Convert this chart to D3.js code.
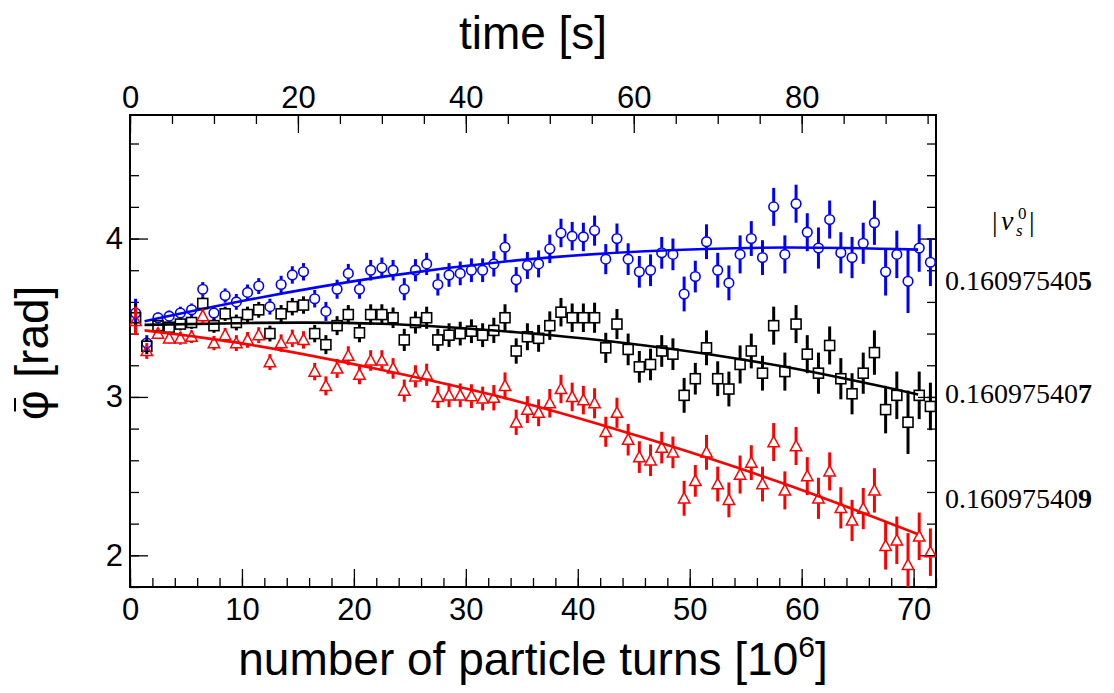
<!DOCTYPE html>
<html><head><meta charset="utf-8">
<script src="https://cdn.jsdelivr.net/npm/d3@7"></script>
<style>body{margin:0;background:#fff}svg{display:block}</style>
</head><body><svg id="c" width="1114" height="693"></svg>
<script>
// ---- data ----
const turns = [0.5,1.5,2.5,3.5,4.5,5.5,6.5,7.5,8.5,9.5,10.5,11.5,12.5,13.5,14.5,15.5,16.5,17.5,18.5,19.5,
  20.5,21.5,22.5,23.5,24.5,25.5,26.5,27.5,28.5,29.5,30.5,31.5,32.5,33.5,34.5,35.5,36.5,37.5,38.5,39.5,
  40.5,41.5,42.5,43.5,44.5,45.5,46.5,47.5,48.5,49.5,50.5,51.5,52.5,53.5,54.5,55.5,56.5,57.5,58.5,59.5,
  60.5,61.5,62.5,63.5,64.5,65.5,66.5,67.5,68.5,69.5,70.5,71.5];
const phiBlue = [3.53,3.34,3.50,3.51,3.53,3.55,3.68,3.53,3.64,3.60,3.66,3.70,3.57,3.71,3.77,3.79,3.62,3.54,3.68,3.78,
  3.68,3.80,3.815,3.80,3.68,3.80,3.84,3.71,3.77,3.78,3.80,3.80,3.84,3.945,3.74,3.83,3.84,3.935,4.035,4.015,
  4.01,4.05,3.87,4.00,3.87,3.79,3.80,3.91,3.90,3.65,3.76,3.98,3.80,3.72,3.90,4.00,3.88,4.20,3.90,4.22,
  4.04,3.94,4.12,3.91,3.88,3.97,4.10,3.79,3.90,3.73,3.94,3.85];
const phiBlack = [3.50,3.32,3.45,3.44,3.46,3.47,3.59,3.45,3.525,3.47,3.52,3.55,3.40,3.525,3.57,3.58,3.40,3.33,3.45,3.52,
  3.405,3.52,3.52,3.50,3.36,3.47,3.50,3.36,3.39,3.40,3.415,3.39,3.42,3.50,3.29,3.38,3.37,3.45,3.535,3.50,
  3.50,3.50,3.31,3.46,3.30,3.19,3.205,3.29,3.27,3.01,3.115,3.31,3.115,3.05,3.205,3.29,3.15,3.45,3.16,3.46,
  3.27,3.15,3.325,3.115,3.02,3.15,3.28,2.92,3.01,2.84,3.01,2.94];
const phiRed = [3.48,3.29,3.40,3.37,3.37,3.38,3.51,3.34,3.39,3.34,3.36,3.39,3.22,3.34,3.37,3.36,3.16,3.07,3.18,3.26,
  3.14,3.23,3.23,3.18,3.04,3.13,3.14,3.00,3.01,3.01,3.005,2.99,2.995,3.07,2.84,2.92,2.90,2.96,3.05,3.00,
  2.98,2.96,2.78,2.90,2.73,2.62,2.60,2.68,2.65,2.36,2.47,2.65,2.45,2.35,2.51,2.585,2.45,2.715,2.41,2.69,
  2.50,2.36,2.53,2.30,2.22,2.295,2.41,2.06,2.095,1.94,2.12,2.02];
const errors = [0.09,0.05,0.035,0.035,0.04,0.04,0.045,0.045,0.045,0.05,0.05,0.05,0.05,0.055,0.055,0.055,0.055,0.06,0.06,0.06,
  0.06,0.065,0.065,0.065,0.07,0.07,0.07,0.07,0.075,0.075,0.075,0.075,0.08,0.085,0.08,0.085,0.085,0.09,0.09,0.09,
  0.09,0.095,0.095,0.095,0.1,0.1,0.1,0.1,0.1,0.11,0.1,0.11,0.11,0.11,0.12,0.11,0.11,0.12,0.12,0.12,
  0.12,0.13,0.12,0.13,0.13,0.13,0.14,0.15,0.15,0.2,0.15,0.15];
const fitX = [1.3, 10.7, 22.5, 34.5, 46, 58.5, 70.4];
const fitBlue = [3.478, 3.615, 3.758, 3.862, 3.92, 3.943, 3.93];
const fitBlack = [3.455, 3.467, 3.462, 3.408, 3.325, 3.19, 3.016];
const fitRed = [3.42, 3.33, 3.17, 2.975, 2.74, 2.45, 2.133];
const bottomTicks = [0,10,20,30,40,50,60,70];
const topTicks = [0,20,40,60,80];
const yTicks = [2,3,4];
const tunePrefix = ["0.16097540","0.16097540","0.16097540"];
const tuneLast = ["5","7","9"];

// ---- layout ----
const L=130, R=936, T=115, B=587;
const svg = d3.select("#c");
const x = d3.scaleLinear().domain([0,72]).range([L,R]);
const xt = d3.scaleLinear().domain([0,96]).range([L,R]);
const y = d3.scaleLinear().domain([1.8,4.78]).range([B,T]);
const font = "'Liberation Sans', Arial, Helvetica, sans-serif";
const serif = "'Liberation Serif', 'Times New Roman', serif";

function range(a,b,s){const r=[];for(let v=a;v<=b+1e-9;v+=s)r.push(+v.toFixed(4));return r;}
function styleAxis(g){g.select(".domain").remove();g.selectAll("line").attr("stroke","#000").attr("stroke-width",1.3);
  g.selectAll("text").attr("font-family",font).attr("font-size",31).attr("fill","#000");}

// bottom
svg.append("g").attr("transform",`translate(0,${B})`).call(d3.axisBottom(x).tickValues(range(0,72,2)).tickSize(-9).tickFormat("")).call(styleAxis);
svg.append("g").attr("transform",`translate(0,${B})`).call(d3.axisBottom(x).tickValues(bottomTicks).tickSize(-18).tickPadding(11).tickFormat(d3.format("d"))).call(styleAxis);
// top
svg.append("g").attr("transform",`translate(0,${T})`).call(d3.axisTop(xt).tickValues(range(0,96,5)).tickSize(-9).tickFormat("")).call(styleAxis);
svg.append("g").attr("transform",`translate(0,${T})`).call(d3.axisTop(xt).tickValues(topTicks).tickSize(-18).tickPadding(7).tickFormat(d3.format("d"))).call(styleAxis);
// left
svg.append("g").attr("transform",`translate(${L},0)`).call(d3.axisLeft(y).tickValues(range(1.8,4.78,0.2)).tickSize(-9).tickFormat("")).call(styleAxis);
svg.append("g").attr("transform",`translate(${L},0)`).call(d3.axisLeft(y).tickValues(yTicks).tickSize(-18).tickPadding(7).tickFormat(d3.format("d"))).call(styleAxis);
// right
svg.append("g").attr("transform",`translate(${R},0)`).call(d3.axisRight(y).tickValues(range(1.8,4.78,0.2)).tickSize(-9).tickFormat("")).call(styleAxis);
svg.append("g").attr("transform",`translate(${R},0)`).call(d3.axisRight(y).tickValues(yTicks).tickSize(-18).tickFormat("")).call(styleAxis);

// frame
svg.append("rect").attr("x",L).attr("y",T).attr("width",R-L).attr("height",B-T)
  .attr("fill","none").attr("stroke","#000").attr("stroke-width",2);

svg.append("clipPath").attr("id","clip").append("rect").attr("x",L).attr("y",T).attr("width",R-L).attr("height",B-T);
const plot = svg.append("g").attr("clip-path","url(#clip)");

const series = [
  {vals:phiBlue, fit:fitBlue, color:"#0000ff", shape:"circle"},
  {vals:phiBlack, fit:fitBlack, color:"#000000", shape:"square"},
  {vals:phiRed, fit:fitRed, color:"#ff0000", shape:"triangle"}
];
const rM = 5;
series.forEach(s=>{
  const g = plot.append("g");
  s.vals.forEach((v,i)=>{
    const cx = x(turns[i]), cy = y(v), top = y(v+errors[i]), bot = y(v-errors[i]);
    if (cy-rM > top) g.append("line").attr("x1",cx).attr("x2",cx).attr("y1",top).attr("y2",cy-rM).attr("stroke",s.color).attr("stroke-width",3);
    if (bot > cy+rM) g.append("line").attr("x1",cx).attr("x2",cx).attr("y1",cy+rM).attr("y2",bot).attr("stroke",s.color).attr("stroke-width",3);
    if (s.shape==="circle") g.append("circle").attr("cx",cx).attr("cy",cy).attr("r",4.8).attr("fill","none").attr("stroke",s.color).attr("stroke-width",1.6);
    else if (s.shape==="square") g.append("rect").attr("x",cx-5).attr("y",cy-5).attr("width",10).attr("height",10).attr("fill","none").attr("stroke",s.color).attr("stroke-width",1.6);
    else g.append("path").attr("d",`M${cx},${cy-6}L${cx+5.7},${cy+4.6}L${cx-5.7},${cy+4.6}Z`).attr("fill","none").attr("stroke",s.color).attr("stroke-width",1.5);
  });
  const line = d3.line().x((d,i)=>x(fitX[i])).y(d=>y(d)).curve(d3.curveNatural);
  plot.append("path").attr("d",line(s.fit)).attr("fill","none").attr("stroke",s.color).attr("stroke-width",2.6);
});

// titles
svg.append("text").attr("x",533).attr("y",49).attr("text-anchor","middle").attr("font-family",font).attr("font-size",46).text("time [s]");
const bt = svg.append("text").attr("x",533).attr("y",675).attr("text-anchor","middle").attr("font-family",font).attr("font-size",46);
bt.append("tspan").text("number of particle turns [10");
bt.append("tspan").attr("font-size",30).attr("dy",-18).text("6");
bt.append("tspan").attr("dy",18).text("]");

const yg = svg.append("g").attr("transform","translate(48,353) rotate(-90)");
const yt = yg.append("text").attr("x",0).attr("y",0).attr("text-anchor","middle").attr("font-family",font).attr("font-size",46).text("φ [rad]");
const ext = yt.node().getExtentOfChar(0);
yg.append("line").attr("x1",ext.x+ext.width*0.3).attr("x2",ext.x+ext.width*0.75).attr("y1",-33).attr("y2",-33).attr("stroke","#000").attr("stroke-width",2);

// right labels
const tuneY = [290, 403, 508];
tunePrefix.forEach((p,i)=>{
  const t = svg.append("text").attr("x",945).attr("y",tuneY[i]).attr("font-family",serif).attr("font-size",28);
  t.append("tspan").text(p);
  t.append("tspan").attr("font-weight","bold").text(tuneLast[i]);
});
const lbl = svg.append("g").attr("font-family",serif);
lbl.append("text").attr("x",992).attr("y",231).attr("font-size",28).text("|");
lbl.append("text").attr("x",1001).attr("y",230).attr("font-size",28).attr("font-style","italic").text("ν");
lbl.append("text").attr("x",1018).attr("y",219).attr("font-size",17).text("0");
lbl.append("text").attr("x",1016).attr("y",236).attr("font-size",17).attr("font-style","italic").text("s");
lbl.append("text").attr("x",1029).attr("y",231).attr("font-size",28).text("|");
</script></body></html>
